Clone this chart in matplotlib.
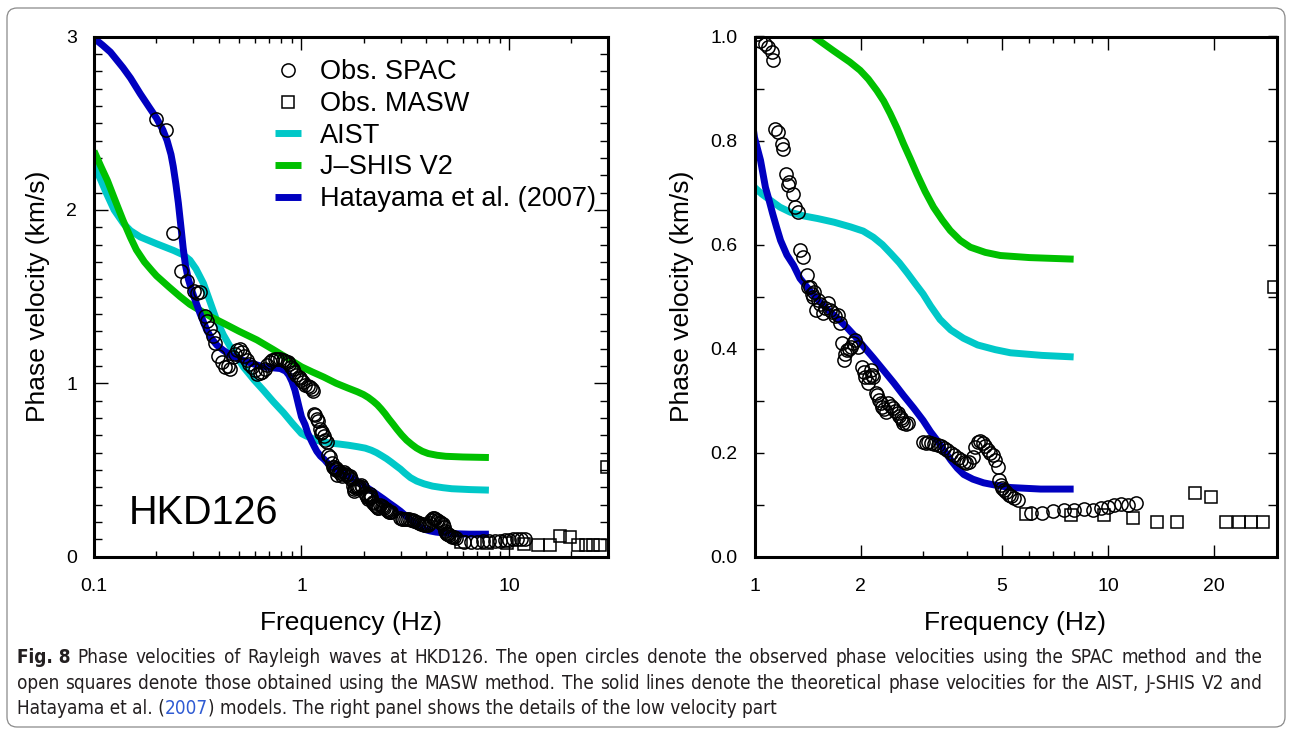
import matplotlib
matplotlib.use('Agg')
import matplotlib.pyplot as plt
from matplotlib import font_manager
from matplotlib.font_manager import FontProperties
from matplotlib.ticker import (FixedLocator, FixedFormatter, NullFormatter,
                               MultipleLocator, FormatStrFormatter)
from matplotlib.patches import FancyBboxPatch
from matplotlib.transforms import IdentityTransform
from matplotlib.lines import Line2D

plt.rcParams['font.family'] = ['Liberation Sans', 'DejaVu Sans']

# theoretical curves (frequency in Hz, phase velocity in km/s)
aist_f = [0.10, 0.108, 0.115, 0.125, 0.139, 0.15, 0.167, 0.20, 0.242, 0.27, 0.29, 0.31,
          0.337, 0.36, 0.39, 0.42, 0.454, 0.49, 0.525, 0.59, 0.655, 0.73, 0.82, 0.91,
          1.0, 1.05, 1.11, 1.18, 1.265, 1.38, 1.51, 1.68, 1.87, 2.03, 2.17, 2.3, 2.43,
          2.57, 2.71, 2.85, 3.0, 3.15, 3.35, 3.59, 3.9, 4.28, 4.8, 5.3, 6.5, 8.0]
aist_v = [2.26, 2.17, 2.094, 2.00, 1.92, 1.88, 1.844, 1.805, 1.766, 1.74, 1.71, 1.66,
          1.576, 1.48, 1.363, 1.28, 1.21, 1.15, 1.094, 1.02, 0.96, 0.895, 0.83, 0.765,
          0.71, 0.697, 0.685, 0.672, 0.662, 0.655, 0.65, 0.643, 0.634, 0.626, 0.614, 0.6,
          0.583, 0.565, 0.545, 0.525, 0.505, 0.482, 0.456, 0.436, 0.42, 0.407, 0.398,
          0.392, 0.387, 0.384]

jshis_f = [0.10, 0.108, 0.116, 0.125, 0.138, 0.15, 0.16, 0.175, 0.19, 0.20, 0.23, 0.26,
           0.29, 0.325, 0.37, 0.42, 0.50, 0.61, 0.73, 0.885, 1.0, 1.13, 1.28, 1.47, 1.67,
           1.86, 1.99, 2.1, 2.22, 2.32, 2.42, 2.53, 2.64, 2.76, 2.88, 3.04, 3.21, 3.4,
           3.58, 3.82, 4.08, 4.5, 4.96, 6.0, 8.0]
jshis_v = [2.34, 2.25, 2.17, 2.07, 1.94, 1.84, 1.77, 1.70, 1.65, 1.62, 1.555, 1.50,
           1.455, 1.42, 1.38, 1.347, 1.30, 1.25, 1.195, 1.134, 1.095, 1.065, 1.036, 1.0,
           0.973, 0.951, 0.935, 0.918, 0.896, 0.876, 0.852, 0.824, 0.794, 0.765, 0.736,
           0.702, 0.672, 0.647, 0.627, 0.608, 0.595, 0.585, 0.579, 0.575, 0.572]

hata_f = [0.10, 0.11, 0.12, 0.138, 0.15, 0.167, 0.185, 0.20, 0.215, 0.225, 0.235, 0.241,
          0.248, 0.255, 0.262, 0.269, 0.276, 0.285, 0.295, 0.305, 0.325, 0.35, 0.37, 0.391,
          0.42, 0.454, 0.50, 0.546, 0.60, 0.657, 0.72, 0.79, 0.84, 0.87, 0.90, 0.93, 0.95,
          0.97, 1.0, 1.04, 1.074, 1.1, 1.125, 1.155, 1.185, 1.235, 1.29, 1.345, 1.44, 1.52,
          1.61, 1.72, 1.83, 1.93, 2.03, 2.17, 2.32, 2.48, 2.64, 2.82, 3.0, 3.15, 3.3, 3.45,
          3.59, 3.75, 3.91, 4.15, 4.45, 4.85, 5.3, 6.45, 8.0]
hata_v = [2.99, 2.95, 2.91, 2.82, 2.76, 2.67, 2.59, 2.53, 2.46, 2.40, 2.32, 2.25,
          2.15, 2.04, 1.91, 1.78, 1.68, 1.60, 1.54, 1.49, 1.40, 1.305, 1.255, 1.22,
          1.19, 1.163, 1.14, 1.124, 1.108, 1.095, 1.09, 1.085, 1.07, 1.047, 1.01, 0.96, 0.915,
          0.87, 0.806, 0.762, 0.71, 0.685, 0.66, 0.633, 0.608, 0.58, 0.56, 0.535, 0.51, 0.492,
          0.475, 0.458, 0.44, 0.423, 0.405, 0.382, 0.358, 0.334, 0.31, 0.286, 0.262, 0.24,
          0.222, 0.203, 0.186, 0.17, 0.158, 0.149, 0.142, 0.137, 0.133, 0.13, 0.13]

# observed phase velocities
spac_f = [0.200, 0.223, 0.2415, 0.262, 0.282, 0.304, 0.315, 0.325, 0.343, 0.35, 0.363,
          0.374, 0.384, 0.398, 0.415, 0.43, 0.442, 0.454, 0.47, 0.48, 0.489, 0.503, 0.517,
          0.53, 0.546, 0.56, 0.578, 0.595, 0.611, 0.63, 0.647, 0.665, 0.684, 0.705, 0.724,
          0.745, 0.765, 0.788, 0.81, 0.835, 0.857, 0.875, 0.89, 0.908, 0.925, 0.945, 0.97,
          0.985, 1.0, 1.018, 1.036, 1.07, 1.094, 1.119, 1.13,
          1.143, 1.168, 1.194, 1.207, 1.228, 1.247, 1.255, 1.283, 1.302, 1.33, 1.345,
          1.37, 1.405, 1.42, 1.436, 1.45, 1.47, 1.468, 1.49, 1.51, 1.53, 1.56, 1.58, 1.61,
          1.64, 1.66, 1.69, 1.72, 1.74, 1.77, 1.79, 1.80, 1.83, 1.85, 1.87, 1.9, 1.93,
          1.96, 2.02, 2.04, 2.06, 2.09, 2.11, 2.13, 2.15, 2.17, 2.2, 2.22, 2.25, 2.28,
          2.3, 2.33, 2.35, 2.39, 2.43, 2.47, 2.5, 2.54, 2.57, 2.59, 2.62, 2.64, 2.68,
          2.71, 2.99, 3.05, 3.1, 3.15, 3.22, 3.3, 3.37, 3.43, 3.5, 3.59, 3.68, 3.76, 3.84,
          3.91, 3.98, 4.05, 4.14, 4.22, 4.3, 4.36, 4.42, 4.5, 4.57, 4.65, 4.72, 4.8, 4.88,
          4.92, 4.97, 5.03, 5.08, 5.16, 5.24, 5.33, 5.42, 5.55, 6.05, 6.53, 7.0, 7.5, 8.0,
          8.55, 9.06, 9.55, 10.0, 10.4, 10.9, 11.4, 12.0]
spac_v = [2.525, 2.46, 1.867, 1.648, 1.588, 1.535, 1.52, 1.527, 1.39, 1.36, 1.317,
          1.27, 1.23, 1.16, 1.12, 1.095, 1.10, 1.085, 1.15, 1.17, 1.19, 1.2, 1.18,
          1.16, 1.132, 1.11, 1.095, 1.075, 1.056, 1.06, 1.065, 1.085, 1.103, 1.12, 1.132,
          1.14, 1.142, 1.14, 1.136, 1.13, 1.122, 1.11, 1.095, 1.08, 1.065, 1.05, 1.036,
          1.028, 1.02, 1.005, 0.992, 0.986, 0.98, 0.97, 0.954,
          0.823, 0.816, 0.794, 0.784, 0.736, 0.714, 0.72, 0.698, 0.672, 0.663, 0.589,
          0.576, 0.541, 0.518, 0.519, 0.505, 0.509, 0.499, 0.474, 0.493, 0.485, 0.468, 0.478,
          0.487, 0.475, 0.47, 0.462, 0.464, 0.449, 0.41, 0.378, 0.39, 0.397, 0.40, 0.403,
          0.41, 0.416, 0.403, 0.365, 0.355, 0.345, 0.334, 0.345, 0.359, 0.35, 0.345, 0.315,
          0.31, 0.301, 0.295, 0.288, 0.283, 0.278, 0.296, 0.29, 0.286, 0.28, 0.276, 0.27,
          0.267, 0.262, 0.257, 0.255, 0.257, 0.221, 0.219, 0.22, 0.219, 0.217, 0.215, 0.212,
          0.209, 0.205, 0.2, 0.195, 0.19, 0.186, 0.182, 0.181, 0.182, 0.192, 0.211, 0.221,
          0.222, 0.219, 0.212, 0.205, 0.2, 0.196, 0.186, 0.173, 0.148, 0.138, 0.133, 0.129,
          0.124, 0.119, 0.116, 0.113, 0.109, 0.084, 0.084, 0.087, 0.09, 0.09, 0.092, 0.09,
          0.094, 0.096, 0.1, 0.102, 0.1, 0.104]

masw_f = [5.85, 7.86, 9.73, 11.8, 13.8, 15.7, 17.6, 19.6, 21.6, 23.5, 25.4, 27.5, 29.6]
masw_v = [0.082, 0.08, 0.08, 0.075, 0.067, 0.067, 0.122, 0.115, 0.067, 0.067, 0.067, 0.067, 0.518]

W, H = 1292, 732
fig = plt.figure(figsize=(W / 100, H / 100), dpi=100)

axL = fig.add_axes([94 / W, 1 - 556.7 / H, 514 / W, 520.2 / H])
axR = fig.add_axes([754.5 / W, 1 - 556.7 / H, 522 / W, 520.2 / H])

c_aist, c_jshis, c_hata = '#00c8c8', '#00c000', '#0000c0'

for ax in (axL, axR):
    ax.plot(aist_f, aist_v, color=c_aist, lw=5, solid_capstyle='butt', solid_joinstyle='round')
    ax.plot(jshis_f, jshis_v, color=c_jshis, lw=5, solid_capstyle='butt', solid_joinstyle='round')
    ax.plot(hata_f, hata_v, color=c_hata, lw=5, solid_capstyle='butt', solid_joinstyle='round')
    ax.plot(spac_f, spac_v, 'o', ms=9.5, mfc='none', mec='black', mew=1.1)
    ax.plot(masw_f, masw_v, 's', ms=8.5, mfc='none', mec='black', mew=1.1)
    ax.set_xscale('log')
    for s in ax.spines.values():
        s.set_linewidth(2.2)
    ax.tick_params(which='both', direction='in', top=True, right=True,
                   labelsize=14, width=1)
    ax.tick_params(axis='x', which='major', length=9, pad=15)
    ax.tick_params(axis='x', which='minor', length=4.5)
    ax.tick_params(axis='y', pad=12)
    ax.set_xlabel('Frequency (Hz)', fontsize=19, labelpad=12)
    ax.set_ylabel('Phase velocity (km/s)', fontsize=19, labelpad=12)

# left panel
axL.set_xlim(0.1, 30)
axL.set_ylim(0, 3)
axL.xaxis.set_major_locator(FixedLocator([0.1, 1, 10]))
axL.xaxis.set_major_formatter(FixedFormatter(['0.1', '1', '10']))
axL.xaxis.set_minor_locator(FixedLocator([0.2, 0.3, 0.4, 0.5, 0.6, 0.7, 0.8, 0.9,
                                          2, 3, 4, 5, 6, 7, 8, 9, 20]))
axL.xaxis.set_minor_formatter(NullFormatter())
axL.yaxis.set_major_locator(MultipleLocator(1))
axL.yaxis.set_minor_locator(MultipleLocator(0.1))
axL.tick_params(axis='y', which='major', length=10)
axL.tick_params(axis='y', which='minor', length=6)
axL.text(0.068, 0.063, 'HKD126', transform=axL.transAxes, fontsize=28.5,
         va='baseline', ha='left')

handles = [
    Line2D([], [], ls='none', marker='o', ms=9.5, mfc='none', mec='black', mew=1.1),
    Line2D([], [], ls='none', marker='s', ms=8, mfc='none', mec='black', mew=1.1),
    Line2D([], [], color=c_aist, lw=5, solid_capstyle='butt'),
    Line2D([], [], color=c_jshis, lw=5, solid_capstyle='butt'),
    Line2D([], [], color=c_hata, lw=5, solid_capstyle='butt'),
]
labels = ['Obs. SPAC', 'Obs. MASW', 'AIST', 'J\u2013SHIS V2', 'Hatayama et al. (2007)']
axL.legend(handles, labels, loc='upper left', bbox_to_anchor=(0.352, 0.956),
           frameon=False, fontsize=19.5, borderpad=0, borderaxespad=0,
           handlelength=0.95, handletextpad=0.7, labelspacing=0.21)

# right panel
axR.set_xlim(1, 30)
axR.set_ylim(0, 1)
axR.xaxis.set_major_locator(FixedLocator([1, 2, 5, 10, 20]))
axR.xaxis.set_major_formatter(FixedFormatter(['1', '2', '5', '10', '20']))
axR.xaxis.set_minor_locator(FixedLocator([3, 4, 6, 7, 8, 9]))
axR.xaxis.set_minor_formatter(NullFormatter())
axR.yaxis.set_major_locator(MultipleLocator(0.2))
axR.yaxis.set_major_formatter(FormatStrFormatter('%.1f'))
axR.yaxis.set_minor_locator(MultipleLocator(0.1))
axR.tick_params(axis='y', which='both', length=6.5)

# frame around the figure
fig.patches.append(FancyBboxPatch((7, 5), 1278, 719, boxstyle='round,pad=0,rounding_size=10',
                                  transform=IdentityTransform(), fill=False,
                                  ec='#8a8a8a', lw=0.9))


# caption: use a condensed face when one is installed
def wnum(w):
    return w if isinstance(w, int) else font_manager.weight_dict.get(w, 400)


cond = [f for f in font_manager.fontManager.ttflist
        if ('Narrow' in f.name or 'Condensed' in f.name
            or f.stretch in ('condensed', 'semi-condensed'))
        and f.style == 'normal']
reg = sorted([f for f in cond if wnum(f.weight) <= 500],
             key=lambda f: (f.name != 'Liberation Sans Narrow', abs(wnum(f.weight) - 400)))
bold = sorted([f for f in cond if wnum(f.weight) >= 600],
              key=lambda f: (reg and f.name != reg[0].name, abs(wnum(f.weight) - 700)))
reg_file = reg[0].fname if reg else font_manager.findfont('Liberation Sans')
bold_file = (bold[0].fname if bold else
             font_manager.findfont(FontProperties(family='Liberation Sans', weight='bold')))

renderer = fig.canvas.get_renderer()
cap_color = '#231f20'


def cap_props(fs, is_bold=False):
    return FontProperties(fname=bold_file if is_bold else reg_file, size=fs)


def add_text(x_px, y_px, s, fs, color=cap_color, is_bold=False):
    t = fig.text(x_px / W, 1 - y_px / H, s, va='baseline', ha='left',
                 color=color, fontproperties=cap_props(fs, is_bold))
    return t, t.get_window_extent(renderer=renderer).width


def justify(x0, x1, y_px, text, fs):
    words = text.split(' ')
    placed = [add_text(0, y_px, w, fs) for w in words]
    gap = (x1 - x0 - sum(w for _, w in placed)) / (len(words) - 1)
    x = x0
    for t, w in placed:
        t.set_x(x / W)
        x += w + gap


line1 = ('Phase velocities of Rayleigh waves at HKD126. The open circles denote the '
         'observed phase velocities using the SPAC method and the')
line2 = ('open squares denote those obtained using the MASW method. The solid lines '
         'denote the theoretical phase velocities for the AIST, J-SHIS V2 and')
probe, w10 = add_text(0, 0, line2, 10)
probe.remove()
cap_fs = 10 * 1228 / w10

_, wfig = add_text(17, 663, 'Fig. 8', cap_fs, is_bold=True)
justify(17 + wfig + 7, 1262, 663, line1, cap_fs)
justify(17, 1262, 689, line2, cap_fs)
x = 17
for s, col in [('Hatayama et al. (', cap_color), ('2007', '#2f5bd3'),
               (') models. The right panel shows the details of the low velocity part',
                cap_color)]:
    _, w = add_text(x, 714, s, cap_fs, color=col)
    x += w

fig.savefig('out.png', dpi=100)
